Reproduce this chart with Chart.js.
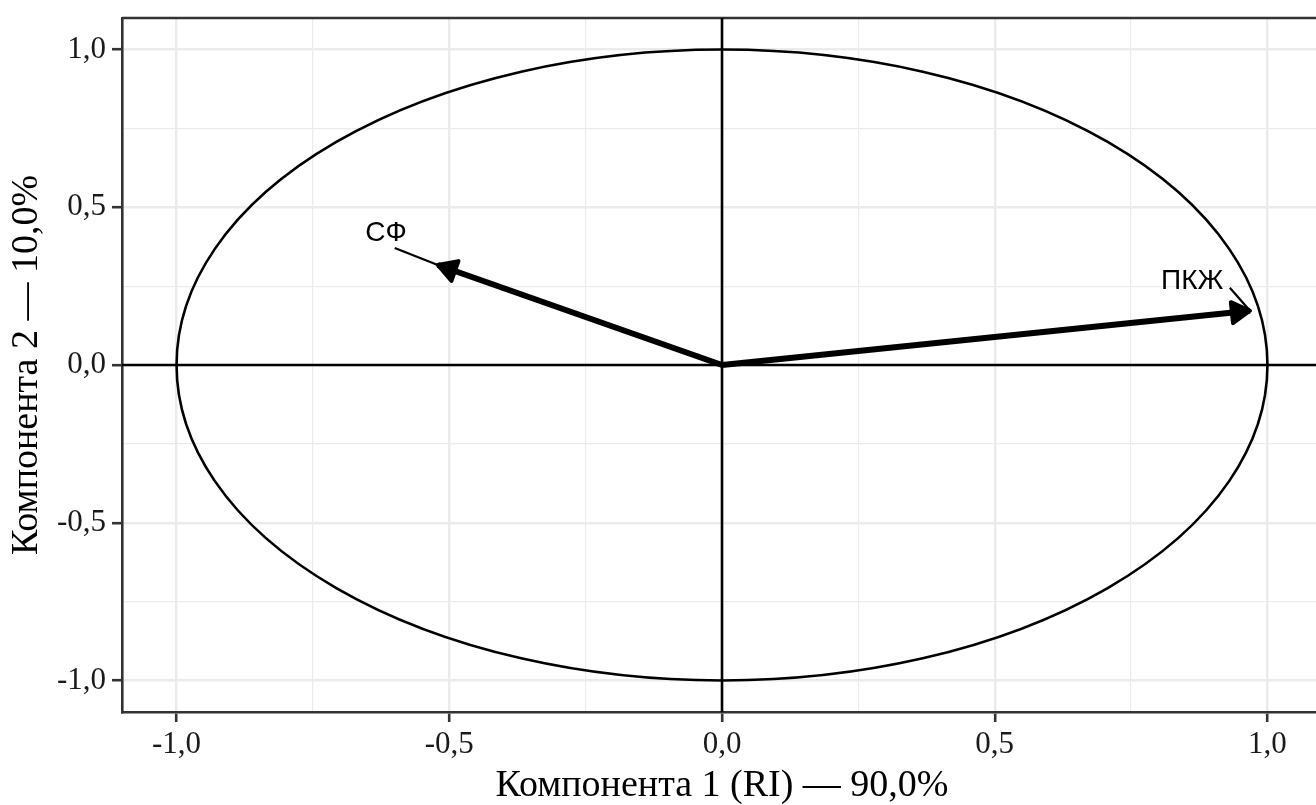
<!DOCTYPE html>
<html><head><meta charset="utf-8">
<script src="https://cdn.jsdelivr.net/npm/chart.js@4"></script>
<style>html,body{margin:0;padding:0;overflow:hidden;background:#fff;width:1316px;height:805px}canvas{display:block}</style>
</head><body><canvas id="c" width="1340" height="805"></canvas>
<script>
// ---- data ----
const variables = ['ПКЖ', 'СФ'];
const comp1 = [0.968, -0.521];
const comp2 = [0.172, 0.317];
const labelComp1 = [0.862, -0.616];
const labelComp2 = [0.266, 0.418];
const segComp1 = [0.931, -0.600];
const segComp2 = [0.245, 0.371];
const tickValues = [-1, -0.5, 0, 0.5, 1];
const tickLabels = ['-1,0', '-0,5', '0,0', '0,5', '1,0'];
const circleRadius = [1];
const axisRange = [-1.1, 1.1];
const xTitle = 'Компонента 1 (RI) — 90,0%';
const yTitle = 'Компонента 2 — 10,0%';

const isMajor = v => Math.abs(v * 2 - Math.round(v * 2)) < 1e-6;
const tickCb = v => {
  const i = tickValues.findIndex(t => Math.abs(t - v) < 1e-9);
  return i >= 0 ? tickLabels[i] : '';
};
const gridOpts = {
  color: '#ebebeb',
  lineWidth: c => (c.tick && isMajor(c.tick.value)) ? 2.4 : 1.2,
  tickColor: c => (c.tick && isMajor(c.tick.value)) ? '#333333' : 'rgba(0,0,0,0)',
  tickWidth: 2.6,
  tickLength: 10,
  drawTicks: true
};
const tickFont = {family: '"Liberation Serif", "DejaVu Serif", serif', size: 31};
const titleFont = {family: '"Liberation Serif", "DejaVu Serif", serif', size: 38, lineHeight: 1};

const datasets = variables.map((name, i) => ({
  label: name,
  data: [{x: 0, y: 0}, {x: comp1[i], y: comp2[i]}],
  showLine: true,
  borderColor: '#000',
  borderWidth: 6,
  pointRadius: 0,
  borderCapStyle: 'butt'
}));

const overlay = {
  id: 'overlay',
  beforeDatasetsDraw(chart) {
    const {ctx, chartArea: a, scales: {x, y}} = chart;
    ctx.save();
    ctx.strokeStyle = '#333';
    ctx.lineWidth = 2.6;
    ctx.beginPath(); ctx.moveTo(a.left, a.top); ctx.lineTo(a.right, a.top); ctx.stroke();
    ctx.beginPath(); ctx.moveTo(a.right, a.top); ctx.lineTo(a.right, a.bottom); ctx.stroke();
    ctx.beginPath(); ctx.rect(a.left, a.top, a.right - a.left, a.bottom - a.top); ctx.clip();
    ctx.strokeStyle = '#000';
    ctx.lineWidth = 2.6;
    const x0 = x.getPixelForValue(0), y0 = y.getPixelForValue(0);
    ctx.beginPath();
    ctx.moveTo(a.left, y0); ctx.lineTo(a.right, y0);
    ctx.moveTo(x0, a.top); ctx.lineTo(x0, a.bottom);
    ctx.stroke();
    const r = circleRadius[0];
    const rx = x.getPixelForValue(r) - x0, ry = y0 - y.getPixelForValue(r);
    ctx.beginPath(); ctx.ellipse(x0, y0, rx, ry, 0, 0, Math.PI * 2); ctx.stroke();
    ctx.restore();
  },
  afterDatasetsDraw(chart) {
    const {ctx, scales: {x, y}} = chart;
    const x0 = x.getPixelForValue(0), y0 = y.getPixelForValue(0);
    ctx.save();
    variables.forEach((name, i) => {
      const tx = x.getPixelForValue(comp1[i]), ty = y.getPixelForValue(comp2[i]);
      // segment
      const sx = x.getPixelForValue(segComp1[i]), sy = y.getPixelForValue(segComp2[i]);
      ctx.strokeStyle = '#000'; ctx.lineWidth = 2.2;
      ctx.beginPath(); ctx.moveTo(sx, sy); ctx.lineTo(tx, ty); ctx.stroke();
      // arrowhead
      const th = Math.atan2(ty - y0, tx - x0);
      const L = 21, ang = Math.PI / 6;
      ctx.beginPath();
      ctx.moveTo(tx, ty);
      ctx.lineTo(tx - L * Math.cos(th - ang), ty - L * Math.sin(th - ang));
      ctx.lineTo(tx - L * Math.cos(th + ang), ty - L * Math.sin(th + ang));
      ctx.closePath();
      ctx.fillStyle = '#000'; ctx.fill();
      ctx.lineWidth = 4; ctx.lineJoin = 'round'; ctx.stroke();
      // label
      ctx.font = '28px "Liberation Sans", Arial, sans-serif';
      ctx.textAlign = 'center'; ctx.textBaseline = 'middle';
      ctx.fillStyle = '#000';
      ctx.fillText(name, x.getPixelForValue(labelComp1[i]), y.getPixelForValue(labelComp2[i]));
    });
    ctx.restore();
  }
};

new Chart(document.getElementById('c'), {
  type: 'scatter',
  data: {datasets},
  options: {
    responsive: false,
    animation: false,
    layout: {padding: {left: 0, right: 18, top: 18, bottom: 0}},
    plugins: {legend: {display: false}, tooltip: {enabled: false}},
    scales: {
      x: {
        type: 'linear', min: axisRange[0], max: axisRange[1],
        afterFit: s => { s.height = 93; s.paddingLeft = 0; s.paddingRight = 0; },
        ticks: {stepSize: 0.25, includeBounds: false, autoSkip: false, maxRotation: 0,
                callback: tickCb, font: tickFont, color: '#1a1a1a', padding: 4},
        grid: gridOpts,
        border: {display: true, color: '#333', width: 2.6},
        title: {display: true, text: xTitle, font: titleFont, color: '#000', padding: {top: 0, bottom: 0}}
      },
      y: {
        type: 'linear', min: axisRange[0], max: axisRange[1],
        afterFit: s => { s.width = 122; s.paddingTop = 0; s.paddingBottom = 0; },
        ticks: {stepSize: 0.25, includeBounds: false, autoSkip: false,
                callback: tickCb, font: tickFont, color: '#1a1a1a', padding: 6},
        grid: gridOpts,
        border: {display: true, color: '#333', width: 2.6},
        title: {display: true, text: yTitle, font: titleFont, color: '#000', padding: {top: 8, bottom: 0}}
      }
    }
  },
  plugins: [overlay]
});
</script>
</body></html>
